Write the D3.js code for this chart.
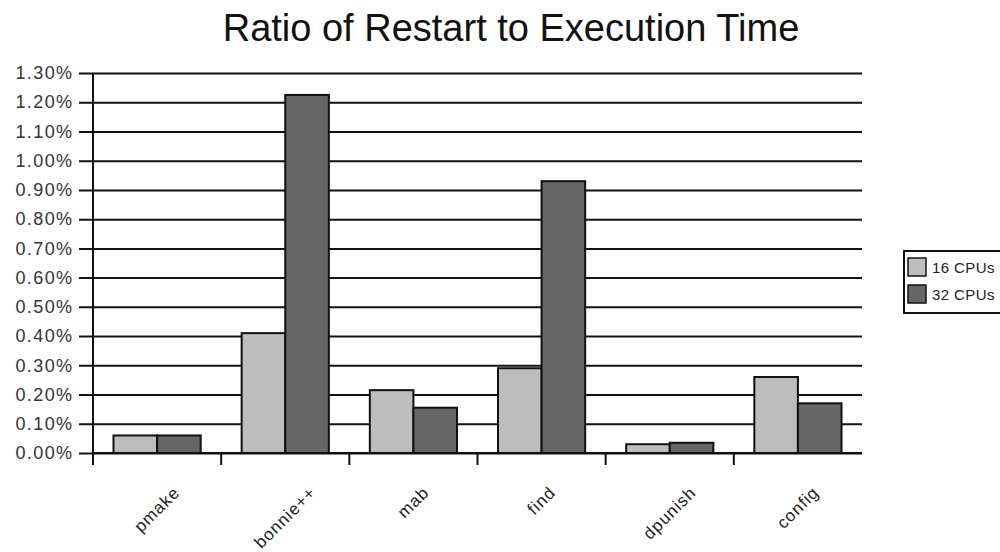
<!DOCTYPE html>
<html><head><meta charset="utf-8">
<script src="https://cdn.jsdelivr.net/npm/d3@7"></script>
<style>body{margin:0;background:#fff}svg{display:block}</style>
</head><body>
<svg id="c" width="1000" height="552"></svg>
<script>
const categories = ["pmake","bonnie++","mab","find","dpunish","config"];
const seriesNames = ["16 CPUs","32 CPUs"];
const cpu16 = [0.06,0.41,0.215,0.29,0.03,0.26];
const cpu32 = [0.06,1.225,0.155,0.93,0.035,0.17];
const yTicks = [0,0.1,0.2,0.3,0.4,0.5,0.6,0.7,0.8,0.9,1.0,1.1,1.2,1.3];
const title = "Ratio of Restart to Execution Time";

const FONT = "Liberation Sans, Arial, sans-serif";
const colors = ["#bdbdbd","#666666"];
const svg = d3.select("#c");
const m = {left:93, right:862, top:73, bottom:453};
const x = d3.scaleBand().domain(categories).range([m.left,m.right]).padding(0);
const xi = d3.scaleBand().domain(seriesNames).range([0,x.bandwidth()]).paddingOuter(0.47).paddingInner(0);
const y = d3.scaleLinear().domain([0,1.3]).range([m.bottom,m.top]);

// title
svg.append("text").attr("x",511).attr("y",41).attr("text-anchor","middle")
  .attr("font-family",FONT).attr("font-size",38).attr("fill","#111").text(title);

// gridlines + y ticks
const ya = d3.axisLeft(y).tickValues(yTicks).tickSize(-(m.right-m.left)).tickSizeOuter(0)
  .tickFormat(d=>d.toFixed(2)+"%").tickPadding(19.5);
const gy = svg.append("g").attr("transform",`translate(${m.left},0)`).call(ya);
gy.select(".domain").remove();
gy.selectAll(".tick line").attr("x1",-14).attr("stroke","#111").attr("stroke-width",2);
gy.selectAll(".tick text").attr("font-family",FONT).attr("font-size",18).attr("letter-spacing",1.4).attr("fill","#333");

// bars
const data = categories.map((c,i)=>({c, v:[cpu16[i],cpu32[i]]}));
const g = svg.append("g");
data.forEach(d=>{
  d.v.forEach((v,j)=>{
    g.append("rect").attr("x",x(d.c)+xi(seriesNames[j])).attr("width",xi.bandwidth())
      .attr("y",y(v)).attr("height",y(0)-y(v))
      .attr("fill",colors[j]).attr("stroke","#111").attr("stroke-width",2);
  });
});

// axes lines
svg.append("line").attr("x1",m.left).attr("x2",m.left).attr("y1",m.top).attr("y2",m.bottom+12).attr("stroke","#111").attr("stroke-width",2);
svg.append("line").attr("x1",m.left).attr("x2",m.right).attr("y1",m.bottom).attr("y2",m.bottom).attr("stroke","#111").attr("stroke-width",2);
const bounds = categories.map(c=>x(c)).concat([m.right]);
bounds.slice(1,-1).forEach(b=>{
  svg.append("line").attr("x1",b).attr("x2",b).attr("y1",m.bottom).attr("y2",m.bottom+12).attr("stroke","#111").attr("stroke-width",2);
});

// x labels rotated, centered on band, top aligned
categories.forEach(c=>{
  const cx = x(c)+x.bandwidth()/2;
  const t = svg.append("text").attr("font-family",FONT).attr("font-size",17).attr("letter-spacing",1)
    .attr("fill","#222").attr("text-anchor","middle").attr("dominant-baseline","central").text(c);
  const L = t.node().getComputedTextLength();
  const cy = 484 + (L/2)*Math.SQRT1_2 + 8*Math.SQRT1_2;
  t.attr("transform",`translate(${cx},${cy}) rotate(-45)`);
});

// legend
const lg = svg.append("g");
lg.append("rect").attr("x",904).attr("y",251).attr("width",110).attr("height",62).attr("fill","#fff").attr("stroke","#111").attr("stroke-width",2);
seriesNames.forEach((s,j)=>{
  lg.append("rect").attr("x",908).attr("y",258+j*27).attr("width",18).attr("height",18).attr("fill",colors[j]).attr("stroke","#111").attr("stroke-width",1.5);
  lg.append("text").attr("x",932).attr("y",273+j*27).attr("font-family",FONT).attr("font-size",15).attr("letter-spacing",0.4).attr("fill","#222").text(s);
});
</script>
</body></html>
